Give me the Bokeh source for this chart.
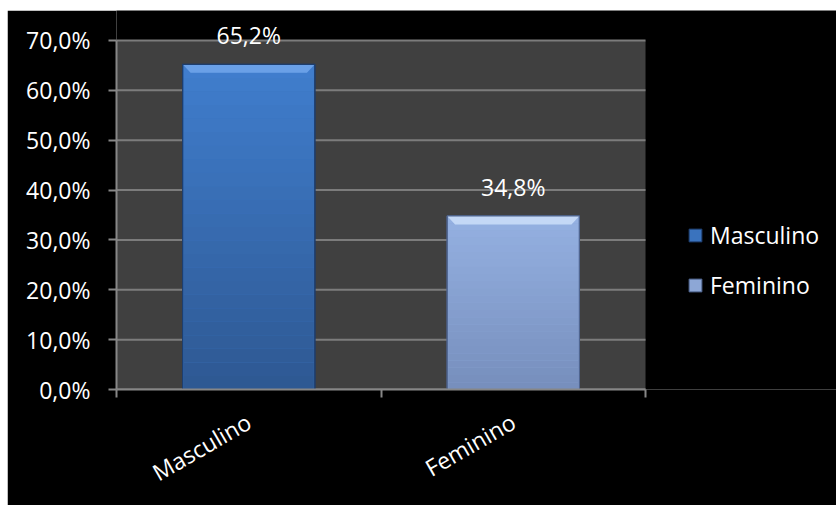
import math
from bokeh.plotting import figure
from bokeh.models import (Range1d, FixedTicker, ColumnDataSource, LabelSet,
                          Legend, LegendItem)
from bokeh.core.properties import value
from bokeh.embed import file_html
from bokeh.resources import INLINE

# ---- data ----
categories = ["Masculino", "Feminino"]
values = [65.2, 34.8]
y_ticks = [0, 10, 20, 30, 40, 50, 60, 70]
y_tick_labels = ["0,0%", "10,0%", "20,0%", "30,0%", "40,0%", "50,0%", "60,0%", "70,0%"]

# ---- styles ----
FONT = "Open Sans"
FS = "23px"
top_colors = [(0x40, 0x7E, 0xCE), (0x95, 0xB1, 0xE2)]
bottom_colors = [(0x2E, 0x58, 0x92), (0x76, 0x8E, 0xBC)]
bevel_colors = ["#6FA4EA", "#C9DDF8"]
edge_colors = ["#1E3E6E", "#4F6590"]
legend_colors = ["#3A73BE", "#8DA7D6"]
BAR_W = 0.5
N_BANDS = 24
N = len(categories)
Y_MAX = y_ticks[-1]
X_END = 2.722   # extra room on the right for the legend
Y_END = 76      # extra room on top for the data label

p = figure(width=829, height=495, output_backend="svg", toolbar_location=None,
           x_range=Range1d(0, X_END), y_range=Range1d(0, Y_END),
           background_fill_color="black", border_fill_color="black",
           min_border_left=109, min_border_right=0, min_border_top=0,
           min_border_bottom=116, margin=(10, 0, 0, 7))
p.outline_line_color = None
p.xgrid.visible = False
p.ygrid.visible = False

# plot area background (only over the category span and up to the max tick)
p.quad(left=[0], right=[N], bottom=[0], top=[Y_MAX], fill_color="#404040",
       line_color=None, level="image")
# gridlines
p.segment(x0=[0] * len(y_ticks), x1=[N] * len(y_ticks), y0=y_ticks, y1=y_ticks,
          line_color="#7C7C7C", line_width=2, level="underlay")

xs = [i + 0.5 for i in range(N)]

# base renderers (used for legend)
legend_items = []
for i, (c, v) in enumerate(zip(categories, values)):
    r = p.vbar(x=[xs[i]], top=[v], bottom=0, width=BAR_W,
               fill_color=legend_colors[i], line_color=edge_colors[i], line_width=1)
    legend_items.append(LegendItem(label=c, renderers=[r]))

# vertical gradient bands
bx, bb, bt, bc = [], [], [], []
for i, v in enumerate(values):
    for j in range(N_BANDS):
        f = (j + 0.5) / N_BANDS
        col = tuple(int(round(bottom_colors[i][k] + (top_colors[i][k] - bottom_colors[i][k]) * f)) for k in range(3))
        bx.append(xs[i])
        bb.append(v * j / N_BANDS)
        bt.append(v * (j + 1) / N_BANDS)
        bc.append("#%02x%02x%02x" % col)
p.vbar(x="x", bottom="b", top="t", width=BAR_W * 0.985, fill_color="c", line_color=None,
       source=ColumnDataSource(dict(x=bx, b=bb, t=bt, c=bc)))

# bevel at top of bars
dx = 0.03
dy = 1.7
pxs, pys = [], []
for i, v in enumerate(values):
    l, r_ = xs[i] - BAR_W / 2, xs[i] + BAR_W / 2
    pxs.append([l, r_, r_ - dx, l + dx])
    pys.append([v, v, v - dy, v - dy])
p.patches(pxs, pys, fill_color=bevel_colors, line_color=None, fill_alpha=0.9)
# outlines
p.vbar(x=xs, top=values, bottom=0, width=BAR_W, fill_color=None,
       line_color=edge_colors, line_width=1.2)

# data labels
lab_src = ColumnDataSource(dict(x=xs, y=values,
                                t=[("%.1f" % v).replace(".", ",") + "%" for v in values]))
p.add_layout(LabelSet(x="x", y="y", text="t", source=lab_src, y_offset=20,
                      text_align="center", text_baseline="alphabetic",
                      text_color="white", text_font=value(FONT),
                      text_font_size=FS))

# y axis
ya = p.yaxis[0]
ya.bounds = (0, Y_MAX)
ya.ticker = FixedTicker(ticks=y_ticks)
ya.major_label_overrides = {t: s for t, s in zip(y_ticks, y_tick_labels)}
ya.axis_line_color = "#878787"
ya.axis_line_width = 2
ya.major_tick_line_color = "#878787"
ya.major_tick_line_width = 2
ya.major_tick_out = 8
ya.major_tick_in = 0
ya.minor_tick_line_color = None
ya.major_label_standoff = 18
ya.major_label_text_color = "white"
ya.major_label_text_font = FONT
ya.major_label_text_font_size = FS

# x axis
xa = p.xaxis[0]
xa.bounds = (0, N)
xa.ticker = FixedTicker(ticks=xs, minor_ticks=list(range(N + 1)))
xa.major_label_overrides = {x: c for x, c in zip(xs, categories)}
xa.axis_line_color = "#878787"
xa.axis_line_width = 2
xa.major_tick_line_color = None
xa.major_tick_out = 0
xa.major_tick_in = 0
xa.minor_tick_line_color = "#878787"
xa.minor_tick_line_width = 2
xa.minor_tick_out = 8
xa.minor_tick_in = 0
xa.major_label_orientation = math.pi / 6
xa.major_label_standoff = 22
xa.major_label_text_color = "white"
xa.major_label_text_font = FONT
xa.major_label_text_font_size = FS

legend = Legend(items=legend_items, location=(571, 88), orientation="vertical",
                margin=0, padding=0, spacing=18, label_height=30, glyph_height=16,
                glyph_width=16, label_standoff=7, background_fill_alpha=0,
                border_line_color=None, label_text_color="white",
                label_text_font=FONT, label_text_font_size=FS)
p.add_layout(legend, "center")

open("out.html", "w").write(file_html(p, INLINE))
